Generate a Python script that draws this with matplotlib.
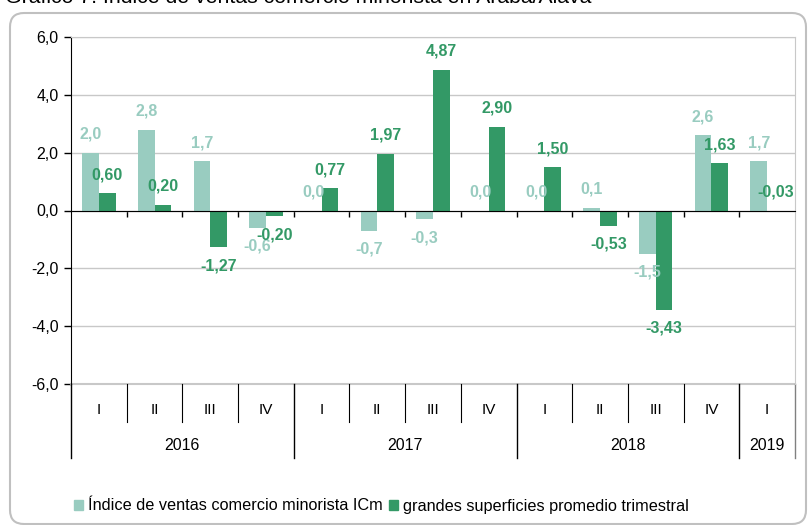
import numpy as np
import matplotlib
matplotlib.use("Agg")
import matplotlib.pyplot as plt
from matplotlib.patches import FancyBboxPatch, Patch
from matplotlib.transforms import IdentityTransform

plt.rcParams['font.family'] = ['Liberation Sans', 'DejaVu Sans']

title_text = "Gráfico 7. Índice de ventas comercio minorista en Araba/Álava"
quarters = ["I", "II", "III", "IV", "I", "II", "III", "IV", "I", "II", "III", "IV", "I"]
years = ["2016", "2017", "2018", "2019"]
year_counts = [4, 4, 4, 1]
icm = [2.0, 2.8, 1.7, -0.6, 0.0, -0.7, -0.3, 0.0, 0.0, 0.1, -1.5, 2.6, 1.7]
grandes = [0.60, 0.20, -1.27, -0.20, 0.77, 1.97, 4.87, 2.90, 1.50, -0.53, -3.43, 1.63, -0.03]
series_names = ["Índice de ventas comercio minorista ICm",
                "grandes superficies promedio trimestral"]

light = '#99CCC0'
dark = '#339966'
W, H = 808, 525

fig = plt.figure(figsize=(W / 100, H / 100), dpi=100)
# plot area in pixels: x 71..795, y 37..384 (from top)
ax = fig.add_axes([71 / W, (H - 384) / H, (795 - 71) / W, (384 - 37) / H])

x = np.arange(len(quarters))
bw = 0.3
ax.bar(x - bw / 2, icm, bw, color=light, zorder=3)
ax.bar(x + bw / 2, grandes, bw, color=dark, zorder=3)

def label(xpos, val, dec, col):
    txt = f"{val:.{dec}f}".replace('.', ',')
    if val >= -0.05:
        ax.annotate(txt, (xpos, max(val, 0)), xytext=(0, 8), textcoords='offset points',
                    ha='center', va='bottom', color=col, fontsize=11.5, fontweight='bold', zorder=5)
    else:
        ax.annotate(txt, (xpos, val), xytext=(0, -8), textcoords='offset points',
                    ha='center', va='top', color=col, fontsize=11.5, fontweight='bold', zorder=5)

for i in range(len(quarters)):
    label(x[i] - bw / 2, icm[i], 1, light)
    label(x[i] + bw / 2, grandes[i], 2, dark)

ax.set_xlim(-0.5, len(quarters) - 0.5)
ax.set_ylim(-6, 6)
yt = np.arange(-6, 7, 2)
ax.set_yticks(yt)
ax.set_yticklabels([f"{v:.1f}".replace('.', ',') for v in yt], fontsize=11.5)
ax.yaxis.grid(True, color='#C8C8C8', lw=1, zorder=0)
ax.tick_params(axis='y', length=5, width=1, color='black', pad=4)

# bottom spine acts as zero line
ax.spines['bottom'].set_position(('data', 0))
ax.spines['bottom'].set_color('black')
ax.spines['bottom'].set_zorder(4)
ax.set_xticks(np.arange(0.5, len(quarters) - 0.5, 1))
ax.set_xticklabels([])
ax.tick_params(axis='x', length=4, width=1, color='black')
ax.spines['left'].set_color('black')
ax.spines['top'].set_color('#C8C8C8')
ax.spines['right'].set_color('#C8C8C8')
ax.axhline(-6, color='#C8C8C8', lw=1.5, clip_on=False)

# category axis area
tr = ax.get_xaxis_transform()
y_q = (384 - 422) / 347
y_y = (384 - 458) / 347
bounds = np.cumsum([0] + year_counts) - 0.5
for k in range(1, len(quarters)):
    xb = k - 0.5
    if xb in bounds:
        continue
    ax.plot([xb, xb], [0, y_q], transform=tr, color='black', lw=0.8, clip_on=False)
for xb in bounds:
    col = '#808080' if xb == bounds[-1] else 'black'
    ax.plot([xb, xb], [0, y_y], transform=tr, color=col, lw=1, clip_on=False)
for i, q in enumerate(quarters):
    ax.text(i, (384 - 410) / 347, q, transform=tr, ha='center', va='center', fontsize=11)
for j, yr in enumerate(years):
    xc = (bounds[j] + bounds[j + 1]) / 2
    ax.text(xc, (384 - 446) / 347, yr, transform=tr, ha='center', va='center', fontsize=11.5)

# legend
handles = [Patch(color=light), Patch(color=dark)]
fig.legend(handles, series_names, loc='center left', bbox_to_anchor=(74 / W, (H - 506) / H),
           ncol=2, frameon=False, fontsize=11.7, handlelength=0.55, handleheight=0.6,
           handletextpad=0.3, columnspacing=0.4, borderaxespad=0, borderpad=0)

# outer rounded frame
frame = FancyBboxPatch((10, 1), 796, 511, boxstyle='round,pad=0,rounding_size=14',
                       transform=IdentityTransform(), fill=False, ec='#C0C0C0', lw=1.5)
fig.patches.append(frame)

fig.text(5 / W, 1 - 3 / H, title_text, ha='left', va='baseline', fontsize=15.3)

fig.savefig('out.png', dpi=100)
